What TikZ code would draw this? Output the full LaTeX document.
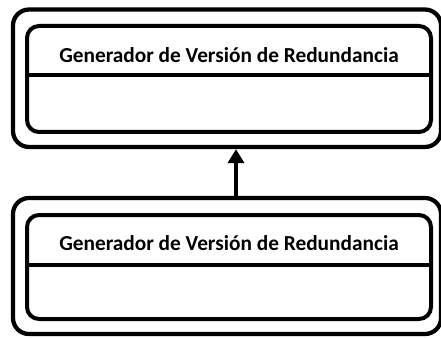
\documentclass[tikz,border=0pt]{standalone}
\usepackage{fontspec}
\setmainfont{Carlito}
\usetikzlibrary{arrows.meta}
\begin{document}
\begin{tikzpicture}[x=0.75pt,y=-0.75pt,
  outerbox/.style={draw=black,line width=3.2pt,rounded corners=12pt,inner sep=0pt,minimum width=321pt},
  innerbox/.style={draw=black,line width=3pt,rounded corners=9pt,inner sep=0pt,minimum width=303pt},
  title/.style={font=\fontsize{16}{18}\selectfont\bfseries,inner sep=0pt},
  divider/.style={line width=3pt},
  link/.style={line width=3pt,-{Triangle[length=10.5pt,width=12pt]}}]
\useasboundingbox (0,0) rectangle (441,338);
% upper
\node[outerbox,minimum height=103.1pt] (uo) at (227,78.25) {};
\node[innerbox,minimum height=79.5pt] (ui) at (229,79) {};
\node[title] (ut) at (229,55) {Generador de Versión de Redundancia};
\coordinate (udl) at (27,75);
\coordinate (udr) at (431,75);
\draw[divider] (udl) -- (udr);
% lower
\node[outerbox,minimum height=102pt] (lo) at (227,266) {};
\node[innerbox,minimum height=78pt] (li) at (229,267) {};
\node[title] (lt) at (229,243) {Generador de Versión de Redundancia};
\coordinate (ldl) at (27,265);
\coordinate (ldr) at (431,265);
\draw[divider] (ldl) -- (ldr);
% arrow
\draw[link] (lo.north -| 236,0) -- (uo.south -| 236,0);
\end{tikzpicture}
\end{document}
